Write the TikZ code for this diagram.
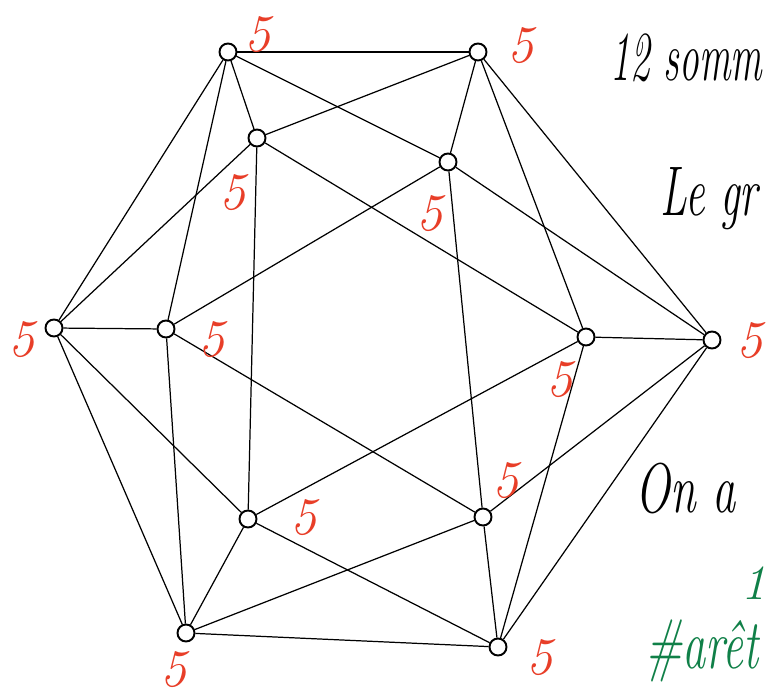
\documentclass[tikz,border=0pt]{standalone}
\usepackage{tikz}
\usepackage{graphicx}
\usepackage{xcolor}
\definecolor{rouge}{RGB}{232,62,40}
\definecolor{vert}{RGB}{16,128,72}

\begin{document}
\begin{tikzpicture}[
  x=0.02cm,y=-0.02cm,line width=0.7pt,
  s/.style={circle,draw,line width=1.1pt,inner sep=0pt,minimum size=3.4mm},
  d/.style={text=rouge,font=\fontsize{30}{30}\selectfont\itshape,inner sep=0pt},
  t/.style={font=\fontsize{40}{40}\selectfont\itshape,inner sep=0pt,anchor=base west}
]
  \useasboundingbox (0,0) rectangle (772,700);
  \clip (0,0) rectangle (772,700);
  % sommets
  \node[s] (a) at (228,52) {};
  \node[s] (b) at (478,52) {};
  \node[s] (c) at (257,138) {};
  \node[s] (d) at (448,162) {};
  \node[s] (e) at (54,328) {};
  \node[s] (f) at (166,329) {};
  \node[s] (g) at (586,337) {};
  \node[s] (h) at (712,340) {};
  \node[s] (i) at (248,519) {};
  \node[s] (j) at (483,517) {};
  \node[s] (k) at (186,633) {};
  \node[s] (l) at (498,647) {};
  % aretes
  \draw (a) -- (b); \draw (a) -- (c); \draw (a) -- (d); \draw (a) -- (e); \draw (a) -- (f);
  \draw (b) -- (c); \draw (b) -- (d); \draw (b) -- (g); \draw (b) -- (h);
  \draw (c) -- (e); \draw (c) -- (i); \draw (c) -- (g);
  \draw (d) -- (f); \draw (d) -- (j); \draw (d) -- (h);
  \draw (e) -- (f); \draw (e) -- (k); \draw (e) -- (i);
  \draw (f) -- (k); \draw (f) -- (j);
  \draw (g) -- (h); \draw (g) -- (i); \draw (g) -- (l);
  \draw (h) -- (j); \draw (h) -- (l);
  \draw (i) -- (k); \draw (i) -- (l);
  \draw (j) -- (k); \draw (j) -- (l);
  \draw (k) -- (l);
  % degres
  \node[d] (da) at (258,35) {5};
  \node[d] (db) at (521,46) {5};
  \node[d] (dc) at (233,193) {5};
  \node[d] (dd) at (430,214) {5};
  \node[d] (de) at (22,340) {5};
  \node[d] (df) at (212,340) {5};
  \node[d] (dg) at (560,380) {5};
  \node[d] (dh) at (750,341) {5};
  \node[d] (di) at (304,518) {5};
  \node[d] (dj) at (506,481) {5};
  \node[d] (dk) at (174,670) {5};
  \node[d] (dl) at (540,658) {5};
  % texte
  \node[t] (somm) at (610,80) {\scalebox{0.56}[1]{12 somm}};
  \node[t] (gr) at (660,215) {\scalebox{0.62}[1]{Le gr}};
  \node[t] (ona) at (635,512) {\scalebox{0.66}[1]{On a}};
  \node[text=vert,font=\fontsize{28}{28}\selectfont\itshape,inner sep=0pt] (un) at (754,583) {1};
  \node[t,text=vert] (ar) at (645,668) {\scalebox{0.66}[1]{\#arêt}};
\end{tikzpicture}
\end{document}
